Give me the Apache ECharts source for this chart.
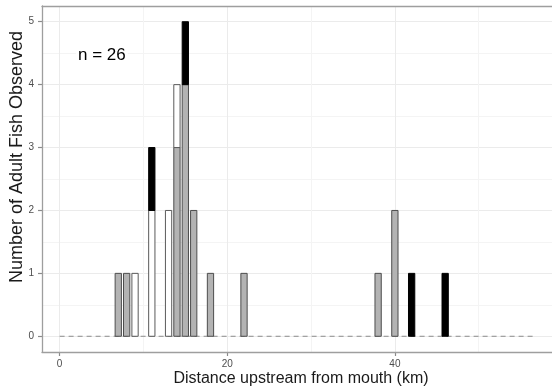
<!DOCTYPE html>
<html>
<head>
<meta charset="utf-8">
<script src="https://cdn.jsdelivr.net/npm/echarts@6/dist/echarts.min.js"></script>
<style>
  html, body { margin: 0; padding: 0; background: #fff; }
  #chart { width: 552px; height: 390px; }
</style>
</head>
<body>
<div id="chart"></div>
<script>
// distances (km) with counts per fill group, stacked grey -> white -> black
const distances = [7, 8, 9, 11, 13, 14, 15, 16, 18, 22, 38, 40, 42, 46];
const greyCounts = [1, 1, 0, 0, 0, 3, 4, 2, 1, 1, 1, 2, 0, 0];
const whiteCounts = [0, 0, 1, 2, 2, 1, 0, 0, 0, 0, 0, 0, 0, 0];
const blackCounts = [0, 0, 0, 1, 0, 0, 1, 0, 0, 0, 0, 0, 1, 1];
const baselineKm = [0, 56.5];
const sampleLabel = "n = 26";
const xTitle = "Distance upstream from mouth (km)";
const yTitle = "Number of Adult Fish Observed";

// panel in pixels and the data range it covers (right edge runs past the canvas)
const W = 552, H = 390;
const panel = { left: 42, top: 6, right: 560, bottom: 352 };
const xRange = [-2.1, 59.7];
const yRange = [-0.25, 5.25];
const xPx = (v) => panel.left + (v - xRange[0]) / (xRange[1] - xRange[0]) * (panel.right - panel.left);
const yPx = (v) => panel.bottom - (v - yRange[0]) / (yRange[1] - yRange[0]) * (panel.bottom - panel.top);

// stack the groups
const groups = [
  { name: "grey", counts: greyCounts, fill: "#b3b3b3", line: "#4d4d4d" },
  { name: "white", counts: whiteCounts, fill: "#ffffff", line: "#5a5a5a" },
  { name: "black", counts: blackCounts, fill: "#000000", line: "#000000" },
];
const base = distances.map(() => 0);
const barRows = [];
groups.forEach((g, gi) => {
  g.counts.forEach((c, i) => {
    if (c > 0) {
      barRows.push([distances[i], base[i], base[i] + c, gi]);
      base[i] += c;
    }
  });
});

let chartMy = echarts.init(document.getElementById("chart"), null, { renderer: "canvas" });

const tickText = { fontSize: 10, color: "#4d4d4d", fontFamily: "Liberation Sans" };
const frameLine = { show: true, onZero: false, lineStyle: { color: "#9e9e9e", width: 1.3 } };

let option = {
  animation: false,
  grid: [
    // data panel
    {
      left: panel.left, top: panel.top, right: W - panel.right, bottom: H - panel.bottom,
      outerBoundsMode: "none", containLabel: false,
    },
    // x ticks / vertical grid lines (0..60 km)
    {
      left: xPx(0), right: W - xPx(60), top: panel.top, bottom: H - panel.bottom,
      outerBoundsMode: "none", containLabel: false,
    },
    // y ticks / horizontal grid lines (0..5)
    {
      left: panel.left, right: W - panel.right, top: yPx(5), bottom: H - yPx(0),
      outerBoundsMode: "none", containLabel: false,
    },
  ],
  xAxis: [
    {
      gridIndex: 0, type: "value", min: xRange[0], max: xRange[1], position: "bottom", z: 3,
      axisLine: frameLine, axisTick: { show: false }, axisLabel: { show: false },
      splitLine: { show: false },
      name: xTitle, nameLocation: "middle", nameGap: 19,
      nameTextStyle: { fontSize: 16, color: "#1a1a1a", fontFamily: "Liberation Sans" },
    },
    {
      gridIndex: 1, type: "value", min: 0, max: 60, interval: 20, z: 0,
      axisLine: { show: false },
      axisTick: { show: true, length: 4, lineStyle: { color: "#8a8a8a", width: 1.2 } },
      axisLabel: Object.assign({ margin: 7 }, tickText),
      splitLine: { show: true, lineStyle: { color: "#ebebeb", width: 1 } },
      minorTick: { show: false, splitNumber: 2 },
      minorSplitLine: { show: true, lineStyle: { color: "#f4f4f4", width: 1 } },
    },
    {
      gridIndex: 2, type: "value", min: 0, max: 1, show: false,
    },
    {
      // top edge of the panel
      gridIndex: 0, type: "value", min: xRange[0], max: xRange[1], position: "top", z: 3,
      axisLine: frameLine, axisTick: { show: false }, axisLabel: { show: false },
      splitLine: { show: false },
    },
  ],
  yAxis: [
    {
      gridIndex: 0, type: "value", min: yRange[0], max: yRange[1], position: "left", z: 3,
      axisLine: frameLine, axisTick: { show: false }, axisLabel: { show: false },
      splitLine: { show: false },
    },
    {
      gridIndex: 1, type: "value", min: 0, max: 1, show: false,
    },
    {
      gridIndex: 2, type: "value", min: 0, max: 5, interval: 1, z: 0,
      axisLine: { show: false },
      axisTick: { show: true, length: 4, lineStyle: { color: "#8a8a8a", width: 1.2 } },
      axisLabel: Object.assign({ margin: 8 }, tickText),
      splitLine: { show: true, lineStyle: { color: "#ebebeb", width: 1 } },
      minorTick: { show: false, splitNumber: 2 },
      minorSplitLine: { show: true, lineStyle: { color: "#f4f4f4", width: 1 } },
    },
  ],
  graphic: [
    {
      type: "text", x: 17, y: 157, rotation: Math.PI / 2,
      style: {
        text: yTitle, fontSize: 18, fill: "#1a1a1a", fontFamily: "Liberation Sans",
        textAlign: "center", textVerticalAlign: "middle",
      },
    },
    {
      type: "text", x: 76, y: 55, z: 10,
      style: {
        text: sampleLabel, fontSize: 17, fill: "#000", fontFamily: "Liberation Sans",
        textAlign: "left", textVerticalAlign: "middle",
        backgroundColor: "#fff", padding: [0, 2],
      },
    },
  ],
  series: [
    {
      type: "line", xAxisIndex: 0, yAxisIndex: 0, z: 1,
      data: baselineKm.map((k) => [k, 0]),
      symbol: "none",
      lineStyle: { color: "#8c8c8c", width: 1, type: [5, 4] },
    },
    {
      type: "custom", xAxisIndex: 0, yAxisIndex: 0, z: 2,
      data: barRows,
      renderItem: function (params, api) {
        const x = api.value(0);
        const lo = api.coord([x, api.value(1)]);
        const hi = api.coord([x, api.value(2)]);
        const w = api.size([0.75, 0])[0];
        const g = groups[api.value(3)];
        return {
          type: "rect",
          shape: { x: lo[0] - w / 2, y: hi[1], width: w, height: lo[1] - hi[1] },
          style: { fill: g.fill, stroke: g.line, lineWidth: 1 },
        };
      },
    },
  ],
};

option && chartMy.setOption(option);
</script>
</body>
</html>
